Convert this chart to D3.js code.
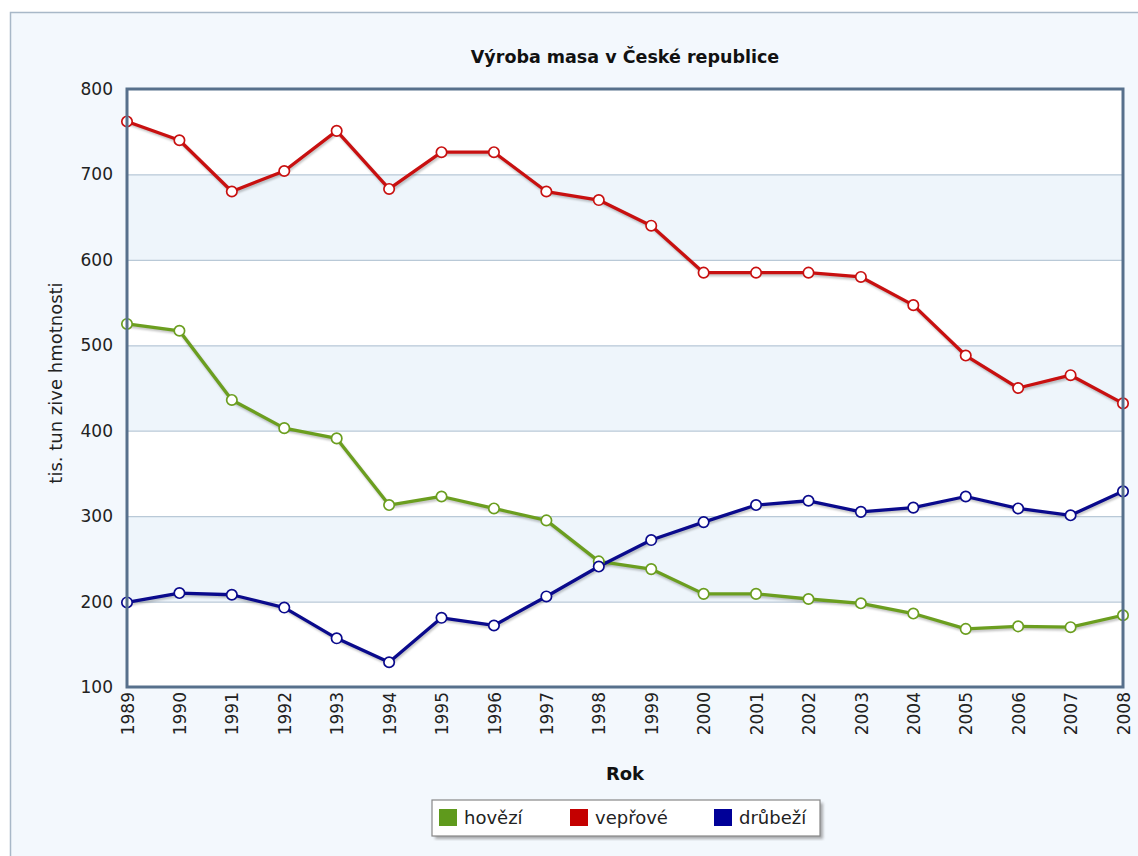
<!DOCTYPE html>
<html><head><meta charset="utf-8">
<script src="https://cdn.jsdelivr.net/npm/d3@7"></script>
<style>html,body{margin:0;padding:0;background:#fff;}svg{display:block;}</style>
</head><body>
<svg id="chart" width="1138" height="856"></svg>
<script>
const years = [1989,1990,1991,1992,1993,1994,1995,1996,1997,1998,1999,2000,2001,2002,2003,2004,2005,2006,2007,2008];
const hovezi = [525,517,436,403,391,313,323,309,295,247,238,209,209,203,198,186,168,171,170,184];
const veprove = [762,740,680,704,751,683,726,726,680,670,640,585,585,585,580,547,488,450,465,432];
const drubezi = [199,210,208,193,157,129,181,172,206,241,272,293,313,318,305,310,323,309,301,329];
const yTicks = [100,200,300,400,500,600,700,800];
const seriesNames = ["hovězí","vepřové","drůbeží"];
const seriesColors = ["#6b9e1f","#c81010","#0a0a8c"];
const legendColors = ["#5f9a1c","#c40000","#000098"];
const title = "Výroba masa v České republice";
const xTitle = "Rok";
const yTitle = "tis. tun zive hmotnosti";

const series = [hovezi, veprove, drubezi];
const svg = d3.select("#chart");
const font = "'DejaVu Sans', Verdana, sans-serif";

const L = 127, R = 1123, T = 89, B = 687;
const x = d3.scaleLinear().domain([1989,2008]).range([L,R]);
const y = d3.scaleLinear().domain([100,800]).range([B,T]);

const defs = svg.append("defs");
const f = defs.append("filter").attr("id","sh").attr("x","-5%").attr("y","-5%").attr("width","110%").attr("height","110%");
f.append("feGaussianBlur").attr("stdDeviation",1.5);
const f2 = defs.append("filter").attr("id","bs");
f2.append("feGaussianBlur").attr("stdDeviation",1.2);

// outer frame
svg.append("rect").attr("x",10.5).attr("y",12.5).attr("width",1140).attr("height",860)
  .attr("fill","#f3f8fd").attr("stroke","#a8b8c8").attr("stroke-width",1.5);

// bands
const bands = [[100,200,"#ffffff"],[200,300,"#eef5fb"],[300,400,"#ffffff"],[400,500,"#eef5fb"],[500,600,"#ffffff"],[600,700,"#eef5fb"],[700,800,"#ffffff"]];
svg.append("g").selectAll("rect").data(bands).join("rect")
  .attr("x",L).attr("width",R-L)
  .attr("y",d=>y(d[1])).attr("height",d=>y(d[0])-y(d[1]))
  .attr("fill",d=>d[2]);

// grid
svg.append("g").selectAll("line").data(yTicks.slice(1,-1)).join("line")
  .attr("x1",L).attr("x2",R).attr("y1",d=>y(d)+0.5).attr("y2",d=>y(d)+0.5)
  .attr("stroke","#b9c9d7").attr("stroke-width",1.2);

// y axis labels
const yAxis = d3.axisLeft(y).tickValues(yTicks).tickSize(0).tickPadding(14).tickFormat(d3.format("d"));
const gy = svg.append("g").attr("transform",`translate(${L},0)`).call(yAxis);
gy.select(".domain").remove();
gy.selectAll("text").attr("font-family",font).attr("font-size",17).attr("fill","#222");

// x axis labels
const xAxis = d3.axisBottom(x).tickValues(years).tickSize(0).tickFormat(d3.format("d"));
const gx = svg.append("g").attr("transform",`translate(0,${B})`).call(xAxis);
gx.select(".domain").remove();
gx.selectAll("text").attr("font-family",font).attr("font-size",17).attr("fill","#222")
  .attr("text-anchor","end").attr("transform","rotate(-90)").attr("x",-5).attr("y",0).attr("dy","0.36em");

// lines
const line = d3.line().x((d,i)=>x(years[i])).y(d=>y(d));
const lg = svg.append("g");
series.forEach((s,k)=>{
  lg.append("path").datum(s).attr("d",line).attr("fill","none")
    .attr("stroke","#000").attr("stroke-opacity",0.25).attr("stroke-width",3)
    .attr("transform","translate(1,2)").attr("filter","url(#bs)");
});
series.forEach((s,k)=>{
  lg.append("path").datum(s).attr("d",line).attr("fill","none")
    .attr("stroke",seriesColors[k]).attr("stroke-width",3.3).attr("stroke-linejoin","round");
});
series.forEach((s,k)=>{
  lg.append("g").selectAll("circle").data(s).join("circle")
    .attr("cx",(d,i)=>x(years[i])).attr("cy",d=>y(d)).attr("r",5.2)
    .attr("fill","#fff").attr("stroke",seriesColors[k]).attr("stroke-width",1.7);
});

// plot border
svg.append("rect").attr("x",L).attr("y",T).attr("width",R-L).attr("height",B-T)
  .attr("fill","none").attr("stroke","#57708c").attr("stroke-width",3);

// titles
svg.append("text").attr("x",625).attr("y",63).attr("text-anchor","middle")
  .attr("font-family",font).attr("font-size",17.5).attr("font-weight","bold").attr("fill","#111").text(title);
svg.append("text").attr("x",625).attr("y",780).attr("text-anchor","middle")
  .attr("font-family",font).attr("font-size",18).attr("font-weight","bold").attr("fill","#111").text(xTitle);
svg.append("text").attr("transform","translate(62,383) rotate(-90)").attr("text-anchor","middle")
  .attr("font-family",font).attr("font-size",18).attr("fill","#222").text(yTitle);

// legend
const lgX = 432, lgY = 800, lgW = 388, lgH = 36;
svg.append("rect").attr("x",lgX+3).attr("y",lgY+3).attr("width",lgW).attr("height",lgH)
  .attr("fill","#777").attr("opacity",0.6).attr("filter","url(#sh)");
svg.append("rect").attr("x",lgX).attr("y",lgY).attr("width",lgW).attr("height",lgH)
  .attr("fill","#fff").attr("stroke","#888").attr("stroke-width",1.2);
const itemX = [439,570,714];
const items = svg.append("g").selectAll("g").data(seriesNames).join("g")
  .attr("transform",(d,i)=>`translate(${itemX[i]},${lgY+9})`);
items.append("rect").attr("width",18).attr("height",17).attr("fill",(d,i)=>legendColors[i]);
items.append("text").attr("x",25).attr("y",15).attr("font-family",font).attr("font-size",18)
  .attr("fill","#222").text(d=>d);
</script>
</body></html>
